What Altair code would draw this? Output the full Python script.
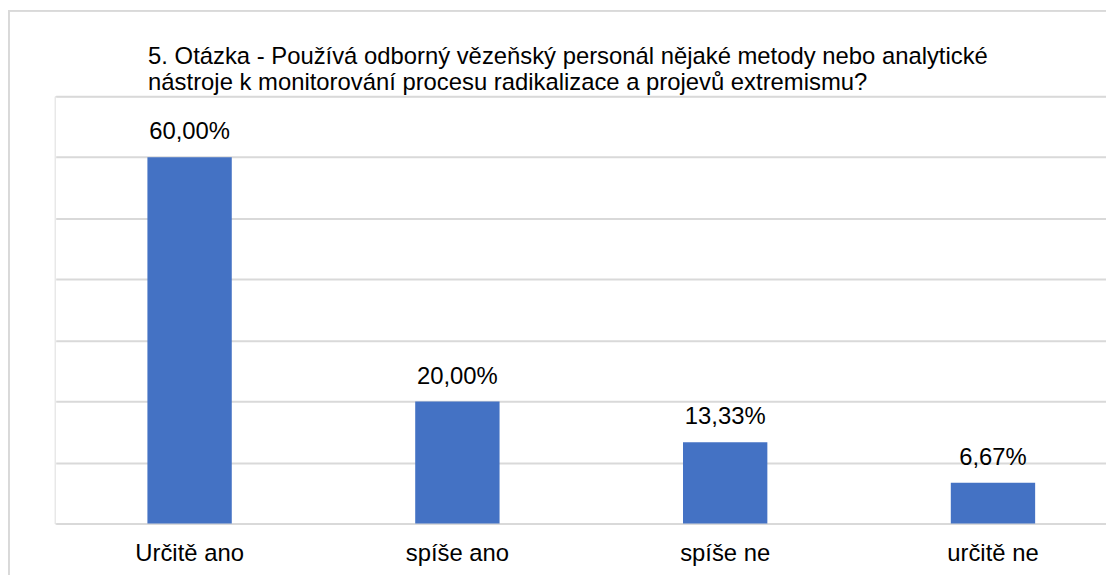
import altair as alt
import pandas as pd

CATEGORIES = ["Určitě ano", "spíše ano", "spíše ne", "určitě ne"]
VALUES = [0.60, 0.20, 0.1333, 0.0667]
LABELS = ["60,00%", "20,00%", "13,33%", "6,67%"]
TITLE_LINES = [
    "5. Otázka - Používá odborný vězeňský personál nějaké metody nebo analytické",
    "nástroje k monitorování procesu radikalizace a projevů extremismu?",
]

df = pd.DataFrame({"cat": CATEGORIES, "val": VALUES, "label": LABELS})

FONT = "Liberation Sans"

x = alt.X(
    "cat:N",
    sort=CATEGORIES,
    scale=alt.Scale(range=[1, 1079], paddingInner=0.685, paddingOuter=0.3425),
    axis=alt.Axis(
        title=None,
        labelAngle=0,
        ticks=False,
        domain=False,
        labelFont=FONT,
        labelFontSize=24,
        labelColor="#000000",
        labelBaseline="alphabetic",
        labelPadding=37,
    ),
)
y = alt.Y(
    "val:Q",
    scale=alt.Scale(domain=[0, 0.7], nice=False),
    axis=alt.Axis(
        title=None,
        labels=False,
        ticks=False,
        domain=False,
        values=[0, 0.1, 0.2, 0.3, 0.4, 0.5, 0.6, 0.7],
        gridColor="#d9d9d9",
        gridWidth=2,
    ),
)

border = alt.Chart(df).mark_rect(
    fill=None, stroke="#d9d9d9", strokeWidth=1.5
).encode(
    x=alt.value(-46),
    x2=alt.value(1200),
    y=alt.value(-86),
    y2=alt.value(700),
)

bars = alt.Chart(df).mark_bar(color="#4472C4").encode(x=x, y=y)

text = alt.Chart(df).mark_text(
    font=FONT, fontSize=24, color="#000000", baseline="alphabetic", dy=-18
).encode(x=x, y=y, text="label:N")

title1 = alt.Chart(pd.DataFrame({"t": [TITLE_LINES[0]]})).mark_text(
    font=FONT, fontSize=24, color="#000000", baseline="alphabetic", align="left"
).encode(x=alt.value(94), y=alt.value(-32), text="t:N")

title2 = alt.Chart(pd.DataFrame({"t": [TITLE_LINES[1]]})).mark_text(
    font=FONT, fontSize=24, color="#000000", baseline="alphabetic", align="left"
).encode(x=alt.value(94), y=alt.value(-6), text="t:N")

chart = (
    alt.layer(border, bars, text, title1, title2)
    .properties(
        width=1058,
        height=430,
        autosize=alt.AutoSizeParams(type="none"),
        padding={"left": 47, "top": 87, "right": 0, "bottom": 50},
    )
    .configure_view(stroke=None)
    .configure(background="white")
)

chart.save("out.html", embed_options={"renderer": "svg", "actions": False})
